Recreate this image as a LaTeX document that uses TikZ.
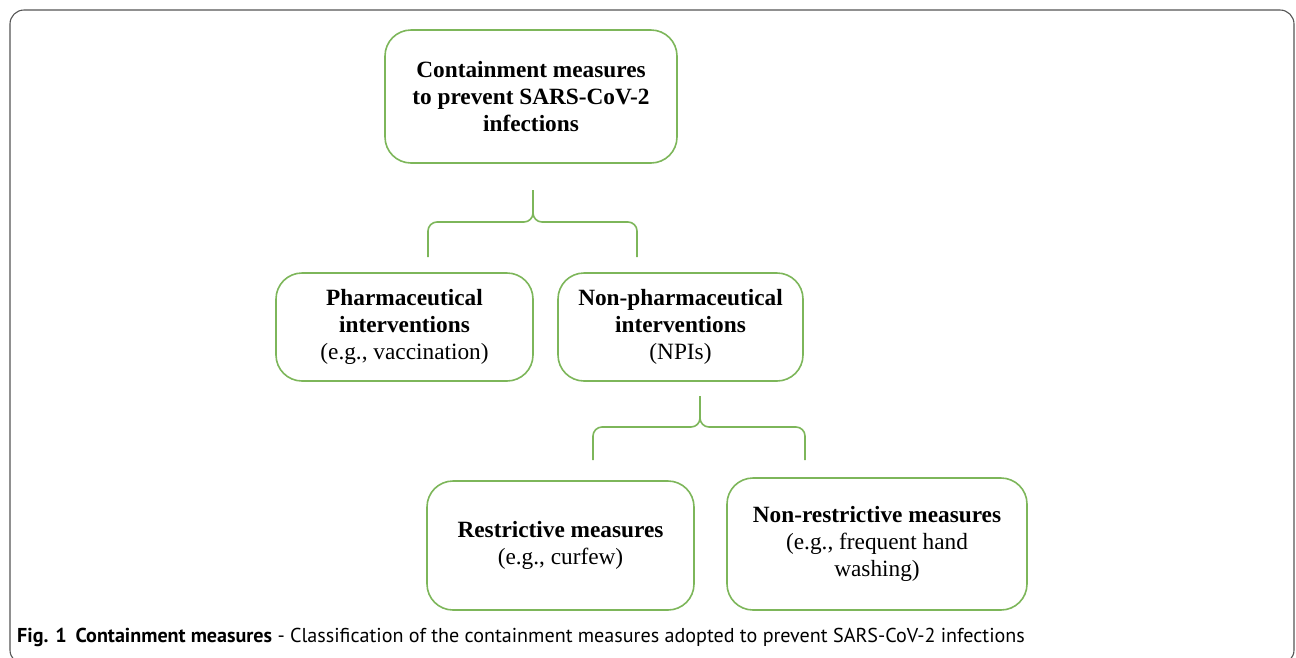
\documentclass[tikz,border=0pt]{standalone}
\usepackage{fontspec}
\setmainfont{Liberation Serif}
\newfontfamily\capfont{PT Sans}
\usetikzlibrary{calc}
\definecolor{boxgreen}{RGB}{125,182,90}
\definecolor{framegray}{RGB}{85,85,85}
\tikzset{
  measure/.style={draw=boxgreen, line width=1.6pt, rounded corners=26pt,
    align=center, inner sep=0pt, font=\fontsize{23.3}{27}\selectfont},
  bracket/.style={draw=boxgreen, line width=1.6pt, rounded corners=9pt},
}
\begin{document}
\begin{tikzpicture}[x=1pt,y=-1pt]
\useasboundingbox (0,0) rectangle (1296,657);
\clip (0,0) rectangle (1296,657);
% frame
\draw[framegray, line width=1.1pt, rounded corners=14pt] (10,10) rectangle (1294,664);
% boxes
\node[measure, minimum width=292, minimum height=133] (contain) at (531,96.5)
  {\textbf{Containment measures}\\\textbf{to prevent SARS-CoV-2}\\\textbf{infections}};
\node[measure, minimum width=257, minimum height=108] (pharma) at (404.5,327)
  {\textbf{Pharmaceutical}\\\textbf{interventions}\\(e.g., vaccination)};
\node[measure, minimum width=245, minimum height=108] (npi) at (680.5,327)
  {\textbf{Non-pharmaceutical}\\\textbf{interventions}\\(NPIs)};
\node[measure, minimum width=267, minimum height=129] (restr) at (560.5,545.5)
  {\textbf{Restrictive measures}\\(e.g., curfew)};
\node[measure, minimum width=300, minimum height=132] (nonrestr) at (877,544)
  {\textbf{Non-restrictive measures}\\(e.g., frequent hand\\washing)};
% first bracket
\coordinate (b1top) at (533,190);
\coordinate (b1mid) at (533,222);
\coordinate (b1left) at (428,257);
\coordinate (b1right) at (637,257);
\draw[bracket] (b1left) |- (b1mid) -- (b1top);
\draw[bracket] (b1right) |- (b1mid) -- (b1top);
% second bracket
\coordinate (b2top) at (700,396);
\coordinate (b2mid) at (700,427);
\coordinate (b2left) at (593,460);
\coordinate (b2right) at (805,460);
\draw[bracket] (b2left) |- (b2mid) -- (b2top);
\draw[bracket] (b2right) |- (b2mid) -- (b2top);
% caption
\node[anchor=base west, inner sep=0pt, font=\capfont\fontsize{20.1}{22}\selectfont] (caption) at (17,642)
  {\textbf{Fig. 1}\hspace{9pt}\textbf{Containment measures} - Classification of the containment measures adopted to prevent SARS-CoV-2 infections};
\end{tikzpicture}
\end{document}
